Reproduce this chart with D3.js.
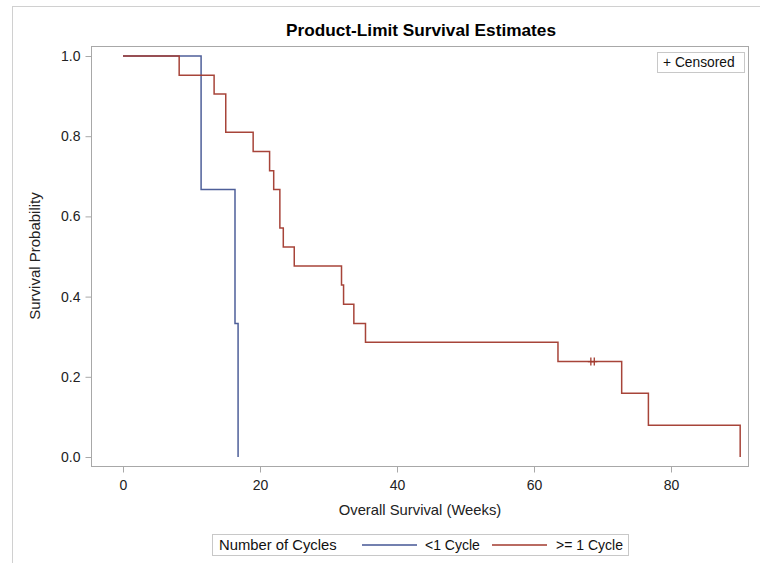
<!DOCTYPE html>
<html><head><meta charset="utf-8">
<script src="https://cdn.jsdelivr.net/npm/d3@7"></script>
<style>body{margin:0;background:#fff;} svg{display:block;font-family:"Liberation Sans",Arial,sans-serif;}</style>
</head><body>
<svg id="c" width="760" height="563"></svg>
<script>
// ---- data ----
const groupNames = ["<1 Cycle", ">= 1 Cycle"];
const groupColors = ["#445694", "#A23A2E"];
// step times (weeks) and survival after each step
const lowTimes = [0, 11.4, 16.35, 16.8];
const lowSurv  = [1.0, 0.667, 0.333, 0.0];
const highTimes = [0, 8.2, 13.3, 15.0, 19.0, 21.4, 22.0, 22.9, 23.4, 25.0, 31.9, 32.2, 33.7, 35.4, 63.5, 72.8, 76.7, 90.1];
const highSurv  = [1.0, 0.952, 0.905, 0.810, 0.762, 0.714, 0.667, 0.571, 0.524, 0.476, 0.429, 0.381, 0.333, 0.286, 0.238, 0.159, 0.079, 0.0];
const censorTimes = [68.3, 68.8];
const censorSurv = [0.238, 0.238];
const xTicks = [0, 20, 40, 60, 80];
const yTicks = [0.0, 0.2, 0.4, 0.6, 0.8, 1.0];

const svg = d3.select("#c");
const L = 91, R = 749, T = 46, B = 467;
const x = d3.scaleLinear().domain([0, 80]).range([123, 671]);
const y = d3.scaleLinear().domain([0, 1]).range([457, 56]);

// outer border
svg.append("rect").attr("x", 12.5).attr("y", 6.5).attr("width", 800).attr("height", 600)
  .attr("fill", "none").attr("stroke", "#d0d0d0");

// title
svg.append("text").attr("x", 421).attr("y", 36).attr("text-anchor", "middle")
  .attr("font-weight", "bold").attr("font-size", 16.5).attr("fill", "#000")
  .attr("textLength", 270).attr("lengthAdjust", "spacingAndGlyphs")
  .text("Product-Limit Survival Estimates");

// frame
svg.append("rect").attr("x", L + 0.5).attr("y", T + 0.5).attr("width", R - L - 1).attr("height", B - T - 1)
  .attr("fill", "none").attr("stroke", "#a8a8a8");

// axes
const yAxis = d3.axisLeft(y).tickValues(yTicks).tickFormat(d3.format(".1f")).tickSize(6).tickPadding(5);
const gy = svg.append("g").attr("transform", `translate(${L + 0.5},0)`).call(yAxis);
gy.select(".domain").remove();
gy.selectAll("line").attr("stroke", "#a8a8a8");
gy.selectAll("text").attr("font-size", 14).attr("fill", "#222").attr("font-family", "Liberation Sans, Arial, sans-serif");

const xAxis = d3.axisBottom(x).tickValues(xTicks).tickSize(6).tickPadding(8);
const gx = svg.append("g").attr("transform", `translate(0,${B - 0.5})`).call(xAxis);
gx.select(".domain").remove();
gx.selectAll("line").attr("stroke", "#a8a8a8");
gx.selectAll("text").attr("font-size", 14).attr("fill", "#222").attr("font-family", "Liberation Sans, Arial, sans-serif");

// axis labels
svg.append("text").attr("x", 420).attr("y", 515).attr("text-anchor", "middle")
  .attr("font-size", 14.8).attr("fill", "#222").text("Overall Survival (Weeks)");
svg.append("text").attr("transform", "translate(40,256) rotate(-90)").attr("text-anchor", "middle")
  .attr("font-size", 15).attr("fill", "#222").text("Survival Probability");

// step lines
const line = d3.line().x(d => x(d[0])).y(d => y(d[1])).curve(d3.curveStepAfter);
function pts(ts, ss) { return ts.map((t, i) => [t, ss[i]]); }
const series = [pts(lowTimes, lowSurv), pts(highTimes, highSurv)];
series.forEach((s, i) => {
  svg.append("path").datum(s).attr("d", line).attr("fill", "none")
    .attr("stroke", groupColors[i]).attr("stroke-width", 1.5).attr("stroke-opacity", 0.95);
});

// censor marks
const cpts = pts(censorTimes, censorSurv);
svg.selectAll(".cens").data(cpts).enter().append("path")
  .attr("d", d => `M${x(d[0])},${y(d[1]) - 4}V${y(d[1]) + 4}M${x(d[0]) - 3},${y(d[1])}H${x(d[0]) + 3}`)
  .attr("stroke", groupColors[1]).attr("stroke-width", 1.3).attr("fill", "none");

// censored inset legend
svg.append("rect").attr("x", 657.5).attr("y", 52.5).attr("width", 87).attr("height", 20)
  .attr("fill", "#fff").attr("stroke", "#c8c8c8");
svg.append("text").attr("x", 663).attr("y", 67).attr("font-size", 13.8).attr("fill", "#111").text("+ Censored");

// bottom legend
svg.append("rect").attr("x", 212.5).attr("y", 534.5).attr("width", 416).attr("height", 21)
  .attr("fill", "#fff").attr("stroke", "#c8c8c8");
svg.append("text").attr("x", 219).attr("y", 550).attr("font-size", 14.8).attr("fill", "#111").text("Number of Cycles");
const legItems = [{x1: 362, x2: 417, tx: 425}, {x1: 492, x2: 547, tx: 556}];
legItems.forEach((it, i) => {
  svg.append("line").attr("x1", it.x1).attr("x2", it.x2).attr("y1", 545).attr("y2", 545)
    .attr("stroke", groupColors[i]).attr("stroke-width", 1.5);
  svg.append("text").attr("x", it.tx).attr("y", 550).attr("font-size", 14).attr("fill", "#111").text(groupNames[i]);
});
</script>
</body></html>
